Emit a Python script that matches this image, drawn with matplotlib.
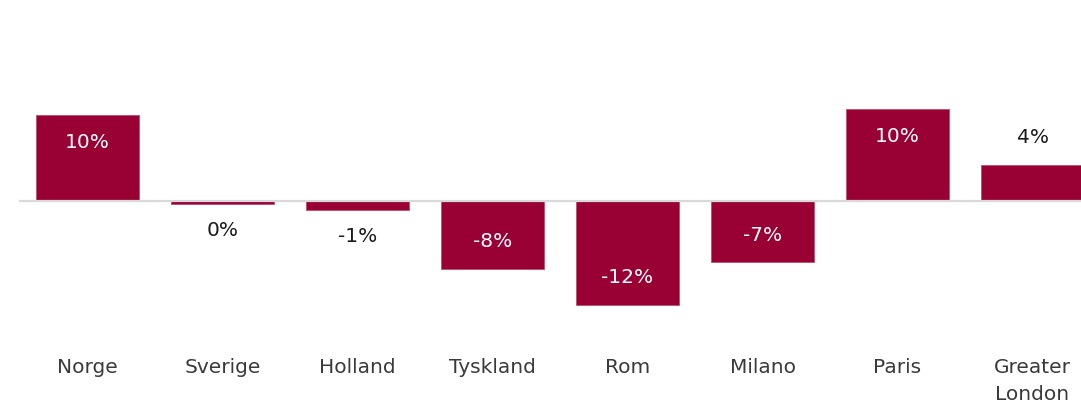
import matplotlib
matplotlib.use("Agg")
import matplotlib.pyplot as plt
import matplotlib.transforms as mtransforms

categories = ["Norge", "Sverige", "Holland", "Tyskland", "Rom", "Milano", "Paris", "Greater\nLondon"]
values = [10.0, -0.4, -1.1, -8.0, -12.2, -7.2, 10.7, 4.2]
labels = ["10%", "0%", "-1%", "-8%", "-12%", "-7%", "10%", "4%"]
inside = [True, False, False, True, True, True, True, False]

W, H, DPI = 1081, 405, 100
plt.rcParams['font.family'] = ['DejaVu Sans']

fig = plt.figure(figsize=(W / DPI, H / DPI), dpi=DPI)
ax = fig.add_axes([0, 0, 1, 1])

px_per_unit_x = 135.0
x0_px = 87.5
ax.set_xlim(-x0_px / px_per_unit_x, (W - x0_px) / px_per_unit_x)
base_px = 200.5
py = 8.55
ax.set_ylim(-(H - base_px) / py, base_px / py)
ax.axis('off')

bar_color = '#990033'
xs = list(range(len(categories)))
ax.bar(xs, values, width=0.763, color=bar_color, edgecolor='#b8506e', linewidth=0.6, zorder=2)
ax.axhline(0, xmin=20 / W, xmax=1, color='#d9d9d9', linewidth=1.6, zorder=3)

off = 27 / py
for x, v, lab, ins in zip(xs, values, labels, inside):
    sign = 1 if v >= 0 else -1
    if ins:
        y = v - sign * off
        col = 'white'
    else:
        y = v + sign * off
        col = '#1a1a1a'
    ax.text(x, y, lab, ha='center', va='center', color=col, fontsize=14.5)

trans = mtransforms.blended_transform_factory(ax.transData, fig.transFigure)
for x, c in zip(xs, categories):
    ax.text(x, 1 - 358 / H, c, transform=trans, ha='center', va='top',
            color='#3a3a3a', fontsize=14.5, linespacing=1.5)

fig.savefig('out.png', dpi=DPI)
